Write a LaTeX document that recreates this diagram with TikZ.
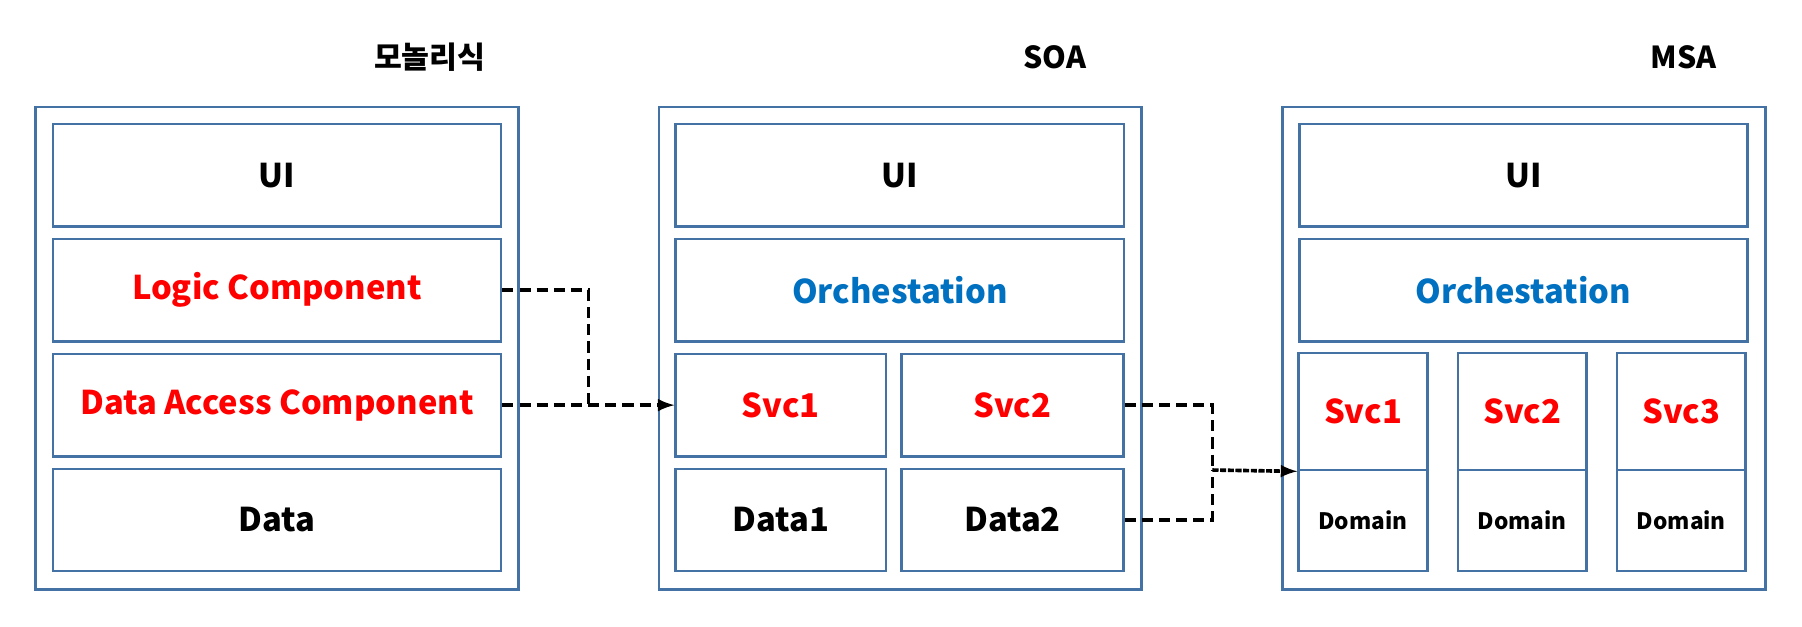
\documentclass[tikz,border=0pt]{standalone}
\usepackage{fontspec}
\setmainfont{Noto Sans CJK KR}
\usepackage{xcolor}
\usepackage{tikz}
\usetikzlibrary{arrows}
\definecolor{boxblue}{RGB}{68,114,164}
\definecolor{svcred}{RGB}{255,0,0}
\definecolor{orchblue}{RGB}{0,112,192}

\tikzset{
  outerbox/.style = {draw=boxblue, line width=1.3pt, minimum width=8.4cm, minimum height=8.4cm, inner sep=0pt},
  layer/.style = {draw=boxblue, line width=1.3pt, minimum width=7.8cm, minimum height=1.78cm, inner sep=0pt, font=\bfseries\fontsize{16.2}{19}\selectfont},
  halfbox/.style = {layer, minimum width=3.66cm},
  msvc/.style = {layer, text=svcred, minimum width=2.24cm, minimum height=2.04cm},
  domainbox/.style = {layer, minimum width=2.24cm, minimum height=1.76cm, font=\bfseries\fontsize{11.2}{13}\selectfont},
  title/.style = {font=\bfseries\fontsize{15}{17}\selectfont, inner sep=0pt},
  link/.style = {line width=1.8pt, dash pattern=on 5.5pt off 3pt}
}

\begin{document}
\begin{tikzpicture}[x=0.02cm, y=-0.02cm]
  \useasboundingbox (0,0) rectangle (1568,545);
  % monolith
  \node[title] (tmono) at (374, 50) {모놀리식};
  \node[outerbox] (mono) at (241, 303) {};
  \node[layer] (monoui) at (241, 152.5) {UI};
  \node[layer, text=svcred] (logic) at (241, 252.5) {Logic Component};
  \node[layer, text=svcred] (dac) at (241, 352.5) {Data Access Component};
  \node[layer] (monodata) at (241, 452.5) {Data};
  % SOA
  \node[title] (tsoa) at (918, 50) {SOA};
  \node[outerbox] (soa) at (783.5, 303) {};
  \node[layer] (soaui) at (783, 152.5) {UI};
  \node[layer, text=orchblue] (soaorch) at (783, 252.5) {Orchestation};
  \node[halfbox, text=svcred] (ssvc1) at (679.5, 352.5) {Svc1};
  \node[halfbox, text=svcred, minimum width=3.86cm] (ssvc2) at (881, 352.5) {Svc2};
  \node[halfbox] (sdata1) at (679.5, 452.5) {Data1};
  \node[halfbox, minimum width=3.86cm] (sdata2) at (881, 452.5) {Data2};
  % MSA
  \node[title] (tmsa) at (1465, 50) {MSA};
  \node[outerbox] (msa) at (1326, 303) {};
  \node[layer] (msaui) at (1325.5, 152.5) {UI};
  \node[layer, text=orchblue] (msaorch) at (1325.5, 252.5) {Orchestation};
  \foreach \i/\x in {1/1186, 2/1324.5, 3/1463} {
    \node[msvc] (msvc\i) at (\x, 358) {Svc\i};
    \node[domainbox] (mdom\i) at (\x, 453) {Domain};
  }
  % connectors
  \coordinate (j1) at (512, 352.5);
  \draw[link] (logic.east) -| (j1);
  \draw[link, -latex] (dac.east) -- (ssvc1.west);
  \coordinate (j2) at (1055, 409);
  \draw[link] (ssvc2.east) -| (j2);
  \draw[link] (sdata2.east) -| (j2);
  \draw[link, dash pattern=on 3pt off 0.8pt, -latex] (j2) -- (msvc1.south west);
\end{tikzpicture}
\end{document}
